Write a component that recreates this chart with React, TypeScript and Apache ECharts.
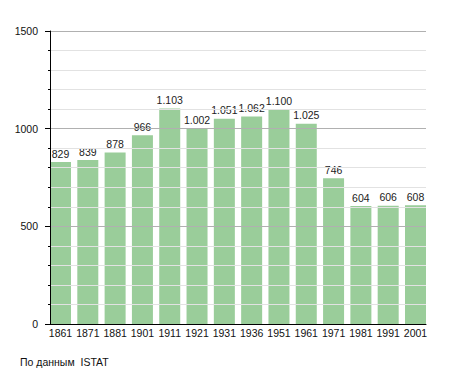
import React, { useEffect, useRef } from "react";
import * as echarts from "echarts";

const years = ["1861", "1871", "1881", "1901", "1911", "1921", "1931", "1936", "1951", "1961", "1971", "1981", "1991", "2001"];
const population = [829, 839, 878, 966, 1103, 1002, 1051, 1062, 1100, 1025, 746, 604, 606, 608];
const yTicks = [0, 500, 1000, 1500];
const sourceNote = "По данным  ISTAT";

const fmt = (v: number) => {
  const s = String(v);
  return s.length > 3 ? s.slice(0, s.length - 3) + "." + s.slice(s.length - 3) : s;
};

export default function App() {
  const ref = useRef<HTMLDivElement>(null);
  useEffect(() => {
    if (!ref.current) return;
    const chart = echarts.init(ref.current, null, { renderer: "svg" });
    const font = "'Liberation Sans', Arial, sans-serif";
    chart.setOption({
      animation: false,
      backgroundColor: "#ffffff",
      textStyle: { fontFamily: font },
      grid: [
        { left: 50, right: 29, top: 31, bottom: 49 },
        { left: 46.85, right: 25.85, top: 31, bottom: 49 },
      ],
      xAxis: [
        {
          gridIndex: 0,
          type: "category",
          data: years,
          axisLine: { show: true, lineStyle: { color: "#000", width: 1 } },
          axisTick: { show: false },
          axisLabel: { show: false },
          splitLine: { show: false },
          z: 5,
        },
        {
          gridIndex: 1,
          type: "category",
          data: years,
          axisLine: { show: false },
          axisTick: { show: false },
          axisLabel: { show: true, color: "#111", fontSize: 10.5, fontFamily: font, margin: 3, interval: 0 },
          splitLine: { show: false },
        },
      ],
      yAxis: [
        {
          gridIndex: 0,
          type: "value",
          min: yTicks[0],
          max: yTicks[yTicks.length - 1],
          interval: 500,
          axisLine: { show: true, lineStyle: { color: "#000", width: 1 } },
          axisTick: { show: true, length: 5, lineStyle: { color: "#000" } },
          minorTick: { show: true, splitNumber: 5, length: 2, lineStyle: { color: "#000" } },
          axisLabel: { color: "#111", fontSize: 10.5, fontFamily: font, margin: 12, formatter: (v: number) => String(v) },
          splitLine: { show: true, lineStyle: { color: "#b0b0b0", width: 1 } },
          minorSplitLine: { show: true, lineStyle: { color: "#e2e2e2", width: 1 } },
          z: 5,
        },
        {
          gridIndex: 1,
          type: "value",
          min: yTicks[0],
          max: yTicks[yTicks.length - 1],
          interval: 500,
          show: false,
          splitLine: { show: false },
        },
      ],
      series: [
        {
          type: "bar",
          xAxisIndex: 1,
          yAxisIndex: 1,
          data: population,
          barWidth: 21,
          itemStyle: { color: "#9acd9a" },
          label: {
            show: true,
            position: "top",
            distance: 3,
            color: "#222",
            fontSize: 10.5,
            fontFamily: font,
            formatter: (p: any) => fmt(p.value),
          },
          z: 3,
        },
      ],
      graphic: [
        {
          type: "text",
          left: 20,
          top: 356,
          style: { text: sourceNote, fill: "#111", font: `10.5px ${font}` },
        },
      ],
    });
    return () => chart.dispose();
  }, []);
  return <div ref={ref} style={{ width: 455, height: 373, position: "absolute", left: 0, top: 0 }} />;
}
